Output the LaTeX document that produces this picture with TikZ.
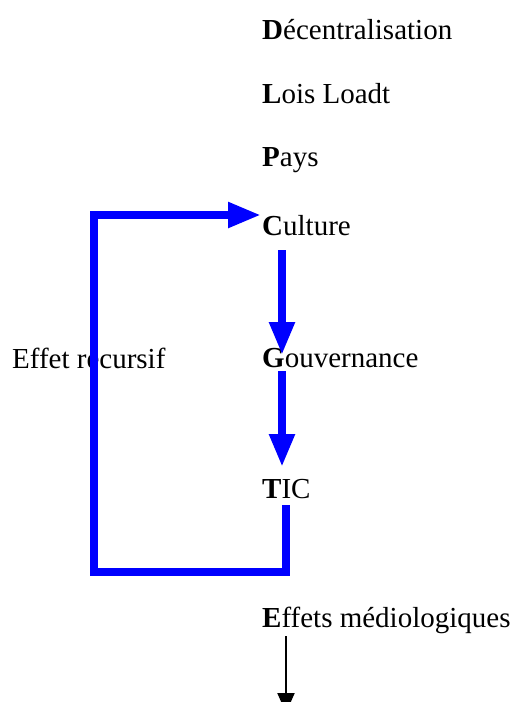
\documentclass[tikz,border=0pt]{standalone}
\usepackage{fontspec}
\setmainfont{Liberation Serif}
\usetikzlibrary{arrows.meta}
\begin{document}
\begin{tikzpicture}[x=1pt,y=1pt,
  lbl/.style={anchor=west,inner sep=0pt,font=\fontsize{29}{34}\selectfont},
  blue/.style={draw={rgb,255:red,0;green,0;blue,255},line width=8pt},
  bluearrow/.style={blue,-{Triangle[length=33pt,width=24pt]}},
  blackarrow/.style={draw=black,line width=2pt,-{Triangle[length=20pt,width=17pt]}}]
\useasboundingbox (0,0) rectangle (516,-702);
\node[lbl] (d) at (262,-30) {\textbf{D}écentralisation};
\node[lbl] (l) at (262,-94) {\textbf{L}ois Loadt};
\node[lbl] (p) at (262,-160) {\textbf{P}ays};
\node[lbl] (c) at (262,-226) {\textbf{C}ulture};
\node[lbl] (g) at (262,-358) {\textbf{G}ouvernance};
\node[lbl] (t) at (262,-489) {\textbf{T}IC};
\node[lbl] (e) at (262,-620) {\textbf{E}ffets médiologiques};
\node[lbl] (r) at (12,-358) {Effet recursif};
\coordinate (c1) at (282,-250);
\coordinate (g1) at (282,-355);
\coordinate (g2) at (282,-371);
\coordinate (t1) at (282,-467);
\coordinate (t2) at (286,-505);
\coordinate (br) at (286,-572);
\coordinate (bl) at (94,-572);
\coordinate (tl) at (94,-215);
\coordinate (ct) at (261,-215);
\coordinate (e1) at (286,-636);
\coordinate (e2) at (286,-713);
\draw[bluearrow] (c1) -- (g1);
\draw[bluearrow] (g2) -- (t1);
\draw[bluearrow] (t2) -- (br) -- (bl) -- (tl) -- (ct);
\draw[blackarrow] (e1) -- (e2);
\end{tikzpicture}
\end{document}
